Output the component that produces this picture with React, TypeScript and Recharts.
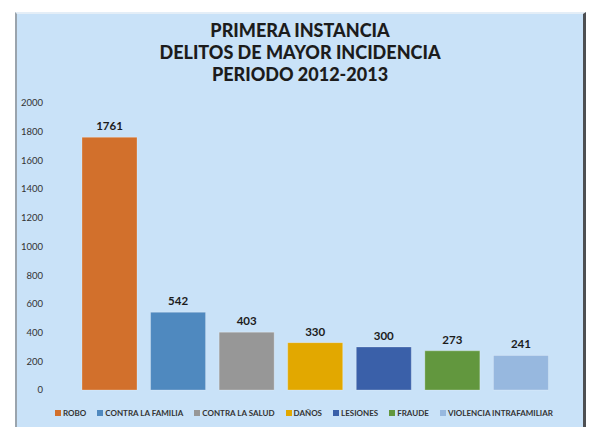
import React from 'react';
import { BarChart, Bar, XAxis, YAxis, Cell, LabelList } from 'recharts';

// Datos del gráfico
const categories = [
  'ROBO',
  'CONTRA LA FAMILIA',
  'CONTRA LA SALUD',
  'DAÑOS',
  'LESIONES',
  'FRAUDE',
  'VIOLENCIA INTRAFAMILIAR',
];
const values = [1761, 542, 403, 330, 300, 273, 241];
const colors = ['#D2702C', '#4F89BF', '#979797', '#E2A800', '#3A60A9', '#62973E', '#97B8DF'];
const yTicks = [0, 200, 400, 600, 800, 1000, 1200, 1400, 1600, 1800, 2000];
const titleLines = ['PRIMERA INSTANCIA', 'DELITOS DE MAYOR INCIDENCIA', 'PERIODO 2012-2013'];

const FONT = 'Lato, "Open Sans", sans-serif';

const chartData = categories.map((name, i) => ({ name, value: values[i] }));

const App: React.FC = () => {
  return (
    <div
      style={{
        position: 'fixed',
        left: 0,
        top: 0,
        width: 594,
        height: 427,
        background: '#ffffff',
        overflow: 'hidden',
        fontFamily: FONT,
      }}
    >
      {/* panel */}
      <div
        style={{
          position: 'absolute',
          left: 15,
          top: 12,
          width: 571,
          height: 425,
          background: '#C9E2F8',
          borderTop: '2px solid #e4eef7',
          borderLeft: '2px solid #9aa4ad',
          borderRight: '3px solid #4d4f52',
          boxSizing: 'border-box',
        }}
      />

      {/* title */}
      <div
        style={{
          position: 'absolute',
          left: 0,
          top: 19,
          width: 600,
          textAlign: 'center',
          fontWeight: 900,
          fontSize: 18,
          lineHeight: '22px',
          color: '#1c1c1c',
        }}
      >
        {titleLines.map((t) => (
          <div key={t}>{t}</div>
        ))}
      </div>

      <div style={{ position: 'absolute', left: 0, top: 0 }}>
        <BarChart
          width={594}
          height={427}
          data={chartData}
          margin={{ top: 103, right: 19, bottom: 37, left: 13 }}
          barCategoryGap={7}
        >
          <XAxis
            dataKey="name"
            tick={false}
            tickLine={false}
            axisLine={{ stroke: '#dce8f2' }}
            height={0}
            padding={{ left: 22, right: 20 }}
          />
          <YAxis
            width={40}
            domain={[0, 2000]}
            ticks={yTicks}
            axisLine={false}
            tickLine={false}
            tickSize={0}
            tickMargin={10}
            interval={0}
            tick={{ fontSize: 9.5, fill: '#333333', fontFamily: FONT }}
          />
          <Bar dataKey="value" isAnimationActive={false}>
            {chartData.map((d, i) => (
              <Cell key={d.name} fill={colors[i]} stroke="rgba(255,255,255,0.25)" />
            ))}
            <LabelList
              dataKey="value"
              position="top"
              offset={7}
              style={{ fontSize: 11.5, fontWeight: 700, fill: '#1c1c1c', fontFamily: FONT }}
            />
          </Bar>
        </BarChart>
      </div>

      {/* legend */}
      <div
        style={{
          position: 'absolute',
          left: 55,
          top: 408,
          width: 498,
          display: 'flex',
          justifyContent: 'space-between',
          fontSize: 8,
          fontWeight: 700,
          color: '#333333',
          lineHeight: '10px',
        }}
      >
        {categories.map((c, i) => (
          <div key={c} style={{ display: 'flex', alignItems: 'center', whiteSpace: 'nowrap' }}>
            <span
              style={{
                display: 'inline-block',
                width: 6,
                height: 6,
                background: colors[i],
                marginRight: 2,
              }}
            />
            {c}
          </div>
        ))}
      </div>
    </div>
  );
};

export default App;
